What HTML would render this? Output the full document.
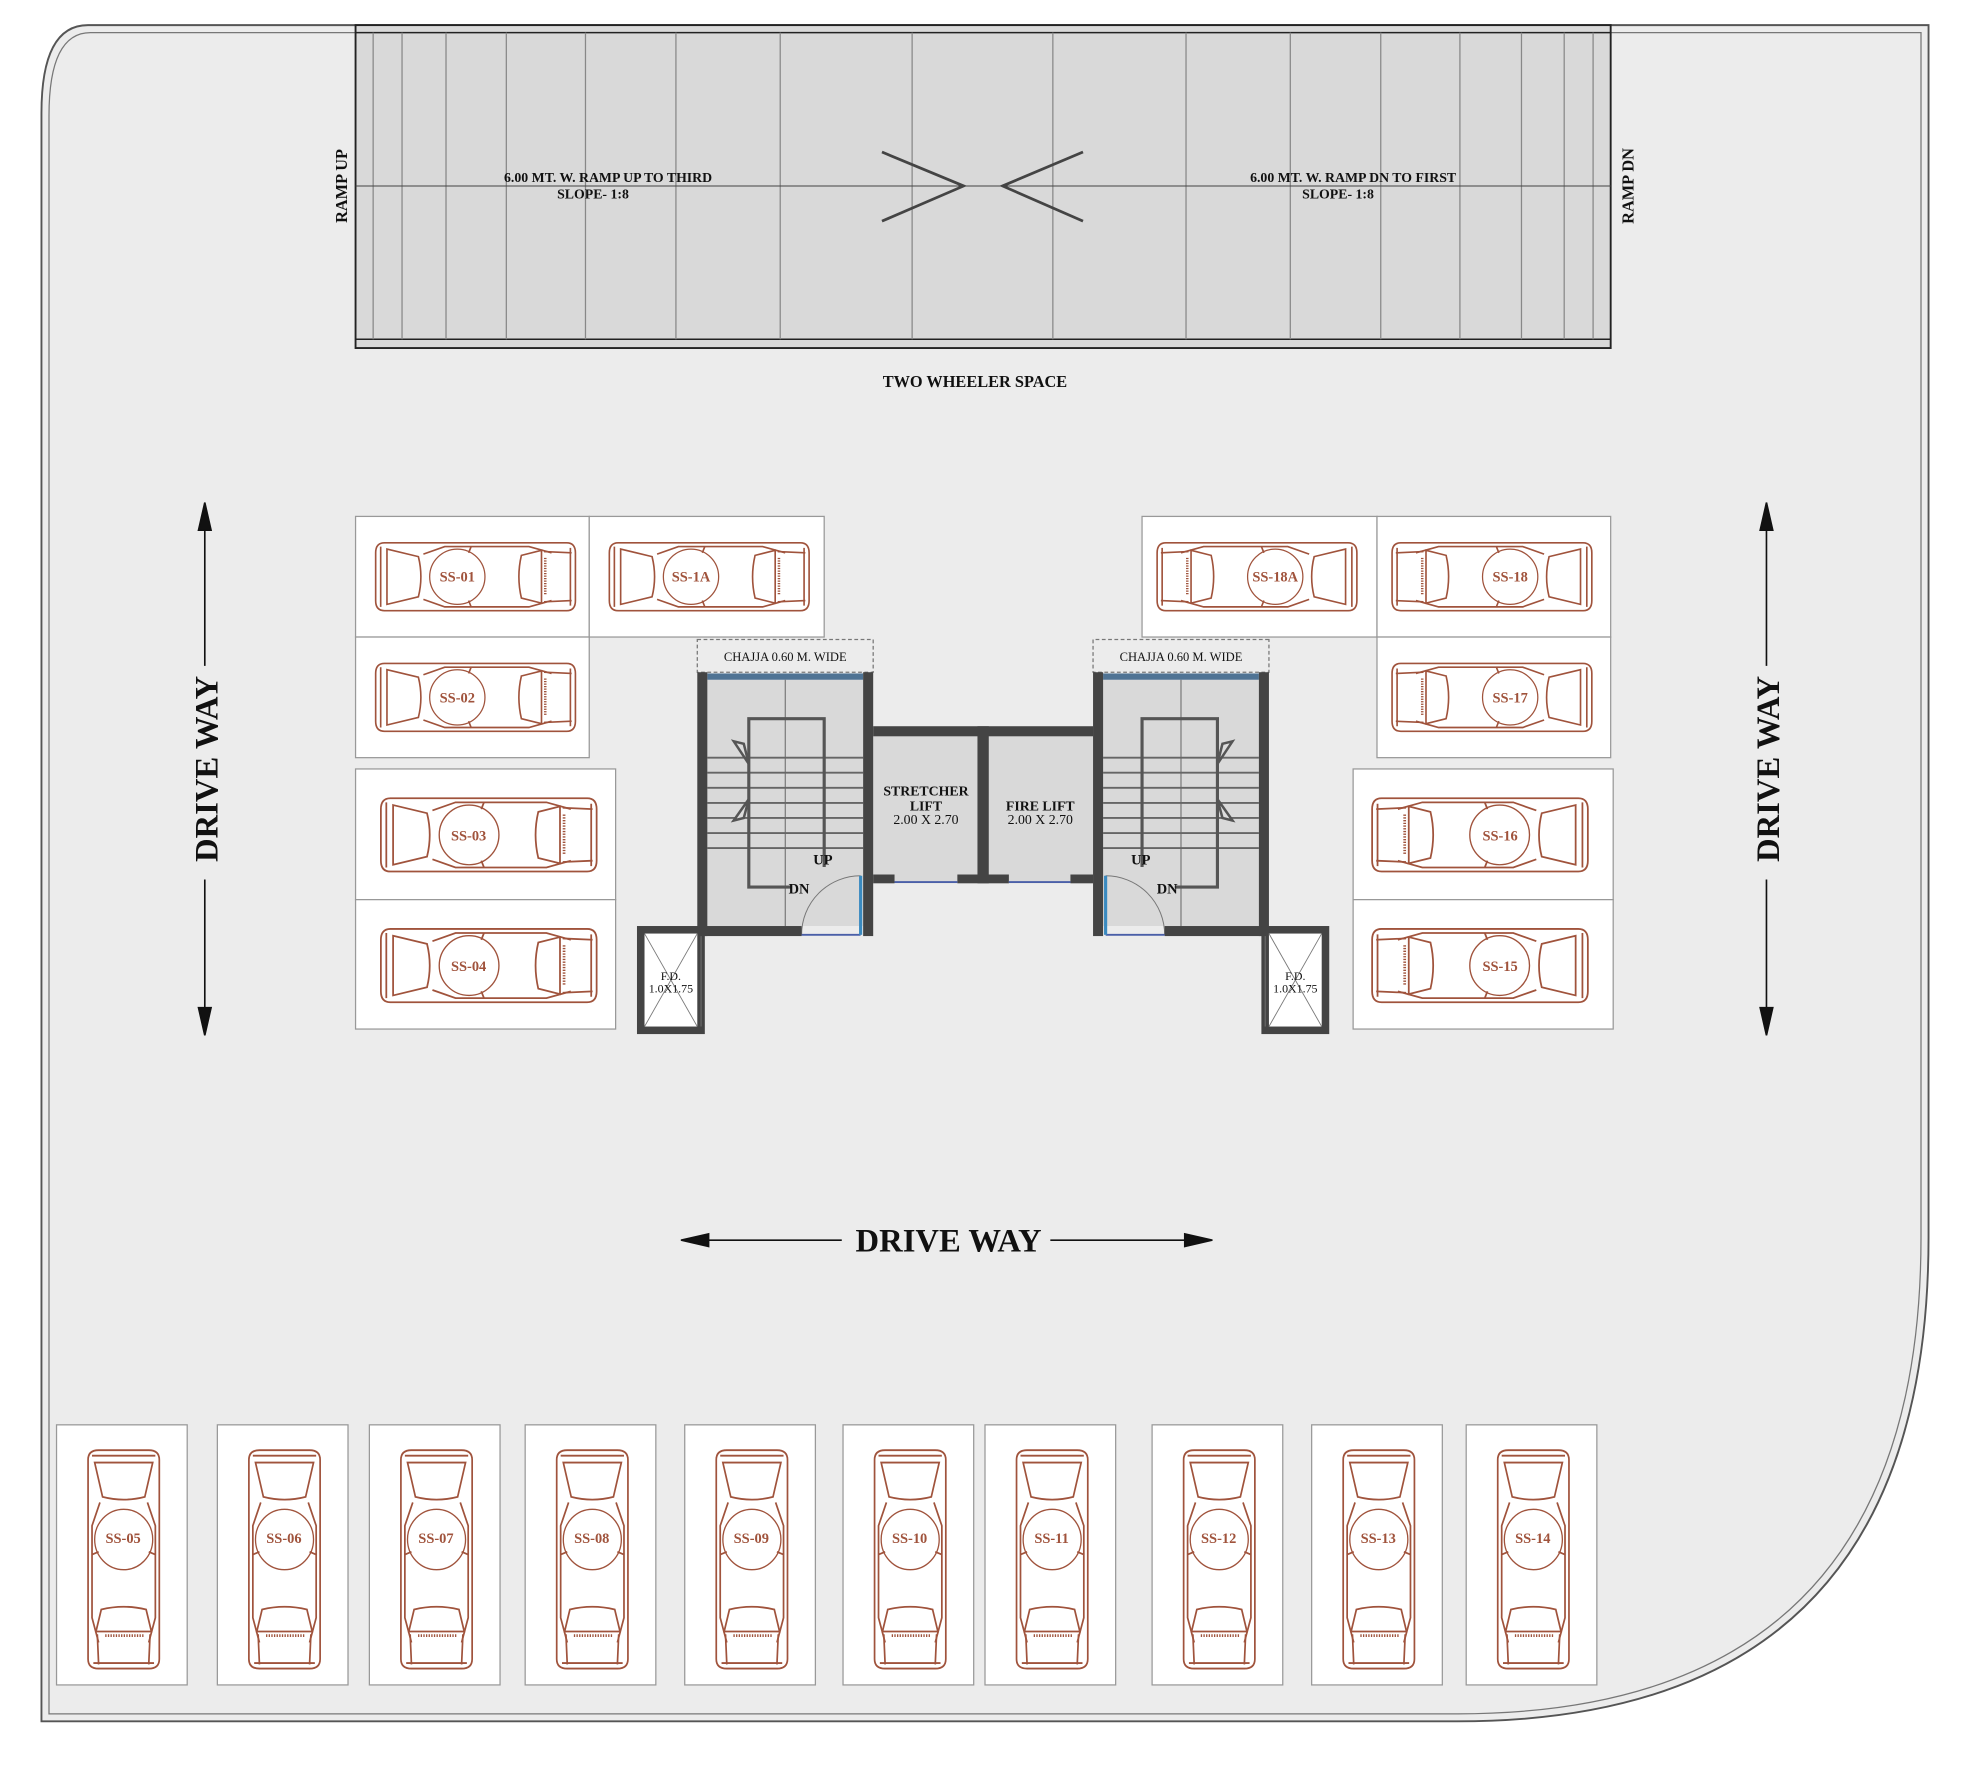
<!DOCTYPE html>
<html><head><meta charset="utf-8"><style>
html,body{margin:0;padding:0;background:#fff;}
svg{display:block;}
text{font-family:"Liberation Serif",serif;}
</style></head><body>
<svg width="1970" height="1771" viewBox="0 0 1568 1409.5" preserveAspectRatio="none" xmlns="http://www.w3.org/2000/svg">
<defs>
<g id="car" fill="none" stroke="#a0533c" stroke-width="1.3">
<path d="M9,4 Q2,4 2,12 L2,50 Q2,58 9,58 L154,58 Q161,58 161,50 L161,12 Q161,4 154,4 Z" fill="#fff"/>
<path d="M6,7 L6,55 M157,8 L157,54"/>
<path d="M11,9 L36,15 Q40,31 36,47 L11,53 Z"/>
<path d="M40,13 L57,7 L124,7 L142,12"/>
<path d="M40,49 L57,55 L124,55 L142,50"/>
<path d="M118,14 L134,10 L134,52 L118,48 Q114,31 118,14 Z"/>
<path d="M136,11 L158,12 M136,51 L158,50"/>
<path d="M137,16 L137,46" stroke-dasharray="1,1" stroke-width="2"/>
<path d="M78,7 L76,12 M78,55 L76,50"/>
<circle cx="67" cy="31" r="22" stroke-width="1"/>
</g>
</defs>
<!-- site -->
<path d="M70,20 L1535,20 L1535,985 Q1535,1370 1160,1370 L33,1370 L33,90 Q33,20 70,20 Z" fill="#ececec" stroke="#555" stroke-width="1.5"/>
<path d="M72,26 L1529,26 L1529,985 Q1529,1364 1160,1364 L39,1364 L39,92 Q39,26 72,26 Z" fill="none" stroke="#777" stroke-width="1"/>
<!-- ramp -->
<rect x="283" y="20" width="999" height="257" fill="#d9d9d9" stroke="#222" stroke-width="1.5"/>
<line x1="283" y1="26" x2="1282" y2="26" stroke="#222" stroke-width="1.2"/>
<line x1="283" y1="270" x2="1282" y2="270" stroke="#222" stroke-width="1.2"/>
<g stroke="#888" stroke-width="1">
<line x1="297" y1="26" x2="297" y2="270"/><line x1="320" y1="26" x2="320" y2="270"/><line x1="355" y1="26" x2="355" y2="270"/><line x1="403" y1="26" x2="403" y2="270"/><line x1="466" y1="26" x2="466" y2="270"/><line x1="538" y1="26" x2="538" y2="270"/><line x1="621" y1="26" x2="621" y2="270"/><line x1="726" y1="26" x2="726" y2="270"/><line x1="838" y1="26" x2="838" y2="270"/><line x1="944" y1="26" x2="944" y2="270"/><line x1="1027" y1="26" x2="1027" y2="270"/><line x1="1099" y1="26" x2="1099" y2="270"/><line x1="1162" y1="26" x2="1162" y2="270"/><line x1="1211" y1="26" x2="1211" y2="270"/><line x1="1245" y1="26" x2="1245" y2="270"/><line x1="1268" y1="26" x2="1268" y2="270"/>
</g>
<line x1="283" y1="148" x2="1282" y2="148" stroke="#444" stroke-width="0.8"/>
<path d="M702,121 L767,148 L702,176 M862,121 L798,148 L862,176" fill="none" stroke="#444" stroke-width="2.2"/>
<g font-weight="bold" font-size="11" fill="#111">
<text x="484" y="145" text-anchor="middle">6.00 MT. W. RAMP UP TO THIRD</text>
<text x="472" y="158" text-anchor="middle">SLOPE- 1:8</text>
<text x="1077" y="145" text-anchor="middle">6.00 MT. W. RAMP DN TO FIRST</text>
<text x="1065" y="158" text-anchor="middle">SLOPE- 1:8</text>
<text transform="translate(276,148) rotate(-90)" text-anchor="middle" font-size="13">RAMP UP</text>
<text transform="translate(1300,148) rotate(-90)" text-anchor="middle" font-size="13">RAMP DN</text>
<text x="776" y="308" text-anchor="middle" font-size="13">TWO WHEELER SPACE</text>
</g>
<!-- driveways -->
<g stroke="#111" stroke-width="1.3" fill="#111">
<line x1="163" y1="412" x2="163" y2="530"/><line x1="163" y1="700" x2="163" y2="812"/>
<path d="M163,400 L158,422 L168,422 Z M163,824 L158,802 L168,802 Z"/>
<line x1="1406" y1="412" x2="1406" y2="530"/><line x1="1406" y1="700" x2="1406" y2="812"/>
<path d="M1406,400 L1401,422 L1411,422 Z M1406,824 L1401,802 L1411,802 Z"/>
<line x1="555" y1="987" x2="670" y2="987"/><line x1="836" y1="987" x2="952" y2="987"/>
<path d="M542,987 L564,982 L564,992 Z M965,987 L943,982 L943,992 Z"/>
</g>
<g font-size="26" font-weight="bold" fill="#111" text-anchor="middle">
<text transform="translate(173,612) rotate(-90)">DRIVE WAY</text>
<text transform="translate(1416,612) rotate(-90)">DRIVE WAY</text>
<text x="755" y="996">DRIVE WAY</text>
</g>
<!-- horizontal slots -->
<g fill="#fff" stroke="#999" stroke-width="1">
<rect x="283" y="411" width="186" height="96"/><rect x="469" y="411" width="187" height="96"/>
<rect x="283" y="507" width="186" height="96"/>
<rect x="283" y="612" width="207" height="104"/><rect x="283" y="716" width="207" height="103"/>
<rect x="909" y="411" width="187" height="96"/><rect x="1096" y="411" width="186" height="96"/>
<rect x="1096" y="507" width="186" height="96"/>
<rect x="1077" y="612" width="207" height="104"/><rect x="1077" y="716" width="207" height="103"/>
</g>
<use href="#car" transform="translate(297,428)"/>
<use href="#car" transform="translate(483,428)"/>
<use href="#car" transform="translate(297,524)"/>
<use href="#car" transform="translate(301,631) scale(1.08)"/>
<use href="#car" transform="translate(301,735) scale(1.08)"/>
<use href="#car" transform="translate(1082,428) scale(-1,1)"/>
<use href="#car" transform="translate(1269,428) scale(-1,1)"/>
<use href="#car" transform="translate(1269,524) scale(-1,1)"/>
<use href="#car" transform="translate(1266,631) scale(-1.08,1.08)"/>
<use href="#car" transform="translate(1266,735) scale(-1.08,1.08)"/>
<g font-size="11.5" font-weight="bold" fill="#a0533c" text-anchor="middle">
<text x="364" y="463">SS-01</text><text x="550" y="463">SS-1A</text><text x="364" y="559">SS-02</text>
<text x="373" y="669">SS-03</text><text x="373" y="773">SS-04</text>
<text x="1015" y="463">SS-18A</text><text x="1202" y="463">SS-18</text><text x="1202" y="559">SS-17</text>
<text x="1194" y="669">SS-16</text><text x="1194" y="773">SS-15</text>
</g>
<!-- vertical slots -->
<g fill="#fff" stroke="#999" stroke-width="1">
<rect x="45" y="1134" width="104" height="207"/><rect x="173" y="1134" width="104" height="207"/>
<rect x="294" y="1134" width="104" height="207"/><rect x="418" y="1134" width="104" height="207"/>
<rect x="545" y="1134" width="104" height="207"/><rect x="671" y="1134" width="104" height="207"/>
<rect x="784" y="1134" width="104" height="207"/><rect x="917" y="1134" width="104" height="207"/>
<rect x="1044" y="1134" width="104" height="207"/><rect x="1167" y="1134" width="104" height="207"/>
</g>
<use href="#car" transform="translate(131,1152) rotate(90) scale(1.093,1.05)"/>
<use href="#car" transform="translate(259,1152) rotate(90) scale(1.093,1.05)"/>
<use href="#car" transform="translate(380,1152) rotate(90) scale(1.093,1.05)"/>
<use href="#car" transform="translate(504,1152) rotate(90) scale(1.093,1.05)"/>
<use href="#car" transform="translate(631,1152) rotate(90) scale(1.093,1.05)"/>
<use href="#car" transform="translate(757,1152) rotate(90) scale(1.093,1.05)"/>
<use href="#car" transform="translate(870,1152) rotate(90) scale(1.093,1.05)"/>
<use href="#car" transform="translate(1003,1152) rotate(90) scale(1.093,1.05)"/>
<use href="#car" transform="translate(1130,1152) rotate(90) scale(1.093,1.05)"/>
<use href="#car" transform="translate(1253,1152) rotate(90) scale(1.093,1.05)"/>
<g font-size="11.5" font-weight="bold" fill="#a0533c" text-anchor="middle">
<text x="98" y="1228">SS-05</text><text x="226" y="1228">SS-06</text><text x="347" y="1228">SS-07</text>
<text x="471" y="1228">SS-08</text><text x="598" y="1228">SS-09</text><text x="724" y="1228">SS-10</text>
<text x="837" y="1228">SS-11</text><text x="970" y="1228">SS-12</text><text x="1097" y="1228">SS-13</text>
<text x="1220" y="1228">SS-14</text>
</g>
<!-- core -->
<rect x="695" y="578" width="175" height="125" fill="#d9d9d9"/>
<g id="stair">
<rect x="555" y="509" width="140" height="26" fill="none" stroke="#777" stroke-dasharray="3,2" stroke-width="1"/>
<rect x="563" y="541" width="124" height="196" fill="#d9d9d9"/>
<rect x="563" y="536" width="124" height="5" fill="#4f7394"/>
<line x1="625" y1="541" x2="625" y2="737" stroke="#666" stroke-width="0.8"/>
<g stroke="#666" stroke-width="1.5">
<line x1="563" y1="603" x2="687" y2="603"/><line x1="563" y1="615" x2="687" y2="615"/><line x1="563" y1="627" x2="687" y2="627"/><line x1="563" y1="639" x2="687" y2="639"/><line x1="563" y1="651" x2="687" y2="651"/><line x1="563" y1="663" x2="687" y2="663"/><line x1="563" y1="675" x2="687" y2="675"/>
</g>
<path d="M656,690 L656,572 L596,572 L596,706 L630,706" fill="none" stroke="#555" stroke-width="2.5"/>
<path d="M584,590 L592,592 L596,608 Z M584,653 L592,651 L596,636 Z" fill="#ddd" stroke="#555" stroke-width="2"/>
<path d="M638,744 A47,47 0 0 1 685,697" fill="none" stroke="#777" stroke-width="0.8"/>
<line x1="638" y1="744" x2="685" y2="744" stroke="#4a5fa8" stroke-width="1.5"/>
<line x1="685" y1="697" x2="685" y2="744" stroke="#3a8ac0" stroke-width="2.5"/>
<g fill="#444">
<rect x="555" y="535" width="8" height="210"/>
<rect x="687" y="535" width="8" height="210"/>
<rect x="555" y="737" width="83" height="8"/>
</g>
<rect x="510" y="740" width="48" height="80" fill="#fff" stroke="#444" stroke-width="6"/>
<line x1="513" y1="743" x2="555" y2="817" stroke="#777" stroke-width="0.7"/>
<line x1="555" y1="743" x2="513" y2="817" stroke="#777" stroke-width="0.7"/>
<line x1="558" y1="745" x2="558" y2="817" stroke="#777" stroke-width="0.7"/>
</g>
<use href="#stair" transform="translate(1565,0) scale(-1,1)"/>
<g fill="#444">
<rect x="695" y="578" width="175" height="8"/>
<rect x="778" y="578" width="9" height="125"/>
<rect x="695" y="696" width="17" height="7"/>
<rect x="762" y="696" width="41" height="7"/>
<rect x="852" y="696" width="18" height="7"/>
</g>
<line x1="712" y1="702" x2="762" y2="702" stroke="#4a5fa8" stroke-width="1.5"/>
<line x1="803" y1="702" x2="852" y2="702" stroke="#4a5fa8" stroke-width="1.5"/>
<g font-size="10" fill="#111" text-anchor="middle">
<text x="625" y="526">CHAJJA 0.60 M. WIDE</text>
<text x="940" y="526">CHAJJA 0.60 M. WIDE</text>
<text x="737" y="633" font-weight="bold" font-size="11">STRETCHER</text>
<text x="737" y="645" font-weight="bold" font-size="11">LIFT</text>
<text x="737" y="656" font-size="11">2.00 X 2.70</text>
<text x="828" y="645" font-weight="bold" font-size="11">FIRE LIFT</text>
<text x="828" y="656" font-size="11">2.00 X 2.70</text>
<text x="655" y="688" font-weight="bold" font-size="11.5">UP</text>
<text x="636" y="711" font-weight="bold" font-size="11.5">DN</text>
<text x="908" y="688" font-weight="bold" font-size="11.5">UP</text>
<text x="929" y="711" font-weight="bold" font-size="11.5">DN</text>
<text x="534" y="780" font-size="9.5">F.D.</text>
<text x="534" y="790" font-size="9.5">1.0X1.75</text>
<text x="1031" y="780" font-size="9.5">F.D.</text>
<text x="1031" y="790" font-size="9.5">1.0X1.75</text>
</g>
</svg>
</body></html>
